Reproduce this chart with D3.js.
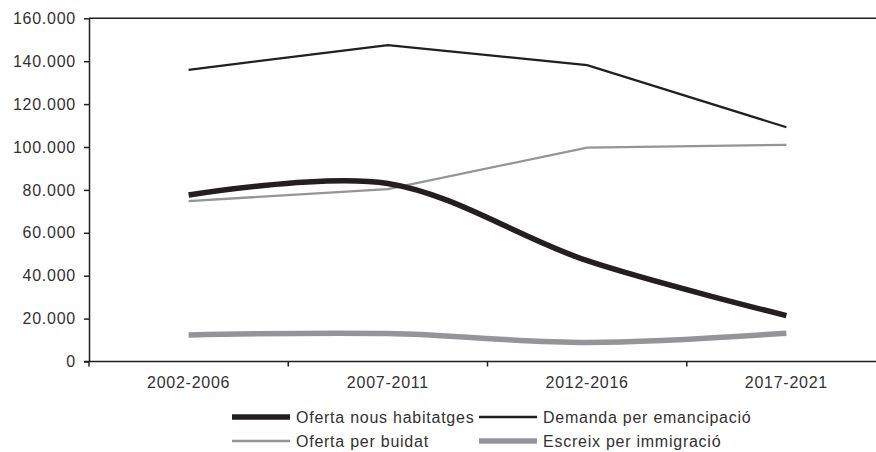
<!DOCTYPE html>
<meta charset="utf-8">
<style>
    body { margin: 0; background: #fff; }
    svg text { font-family: "Liberation Sans", Arial, sans-serif; fill: #333132; font-size: 16px; letter-spacing: 0.75px; }
    .axis path, .axis line { fill: none; stroke: #231f20; stroke-width: 1.5px; }
</style>
<body>
<div id="plotarea"></div>
<script src="https://cdn.jsdelivr.net/npm/d3@7"></script>
<script>

    var periods = ["2002-2006", "2007-2011", "2012-2016", "2017-2021"];
    var ofertaNous = [77600, 83000, 47000, 21400];
    var demandaEmancipacio = [136000, 147500, 138200, 109200];
    var ofertaBuidat = [74800, 80400, 99700, 101000];
    var escreixImmigracio = [12400, 13000, 8900, 13200];
    var yTicks = [0, 20000, 40000, 60000, 80000, 100000, 120000, 140000, 160000];

    var series = [
        {name: "Oferta nous habitatges", values: ofertaNous, color: "#231f20", width: 5.5, smooth: true},
        {name: "Demanda per emancipació", values: demandaEmancipacio, color: "#231f20", width: 2.3, smooth: false},
        {name: "Oferta per buidat", values: ofertaBuidat, color: "#939598", width: 2.3, smooth: false},
        {name: "Escreix per immigració", values: escreixImmigracio, color: "#939598", width: 5.5, smooth: true}
    ];

    var width = 876, height = 452;
    var plot = {left: 89, right: 886, top: 18.3, bottom: 361.5};

    var locale = d3.formatLocale({decimal: ",", thousands: ".", grouping: [3], currency: ["", "€"]});
    var fmt = locale.format(",d");

    var x = d3.scaleBand().domain(periods).range([plot.left, plot.right]);
    var y = d3.scaleLinear().domain([0, 160000]).range([plot.bottom, plot.top]);

    var svg = d3.select("#plotarea").append("svg")
            .attr("width", width)
            .attr("height", height);

    // top border of plot area
    svg.append("line")
            .attr("x1", plot.left).attr("x2", width)
            .attr("y1", y(160000)).attr("y2", y(160000))
            .attr("stroke", "#231f20").attr("stroke-width", 1.5);

    // y axis
    svg.append("g")
            .attr("class", "axis")
            .attr("transform", "translate(" + plot.left + ",0)")
            .call(d3.axisLeft(y).tickValues(yTicks).tickFormat(fmt).tickSize(5).tickSizeOuter(0).tickPadding(8));

    // x axis: labels centered in bands, ticks at band edges
    var xAxis = svg.append("g")
            .attr("class", "axis")
            .attr("transform", "translate(0," + plot.bottom + ")")
            .call(d3.axisBottom(x).tickSize(0).tickSizeOuter(0).tickPadding(15));
    xAxis.select(".domain").attr("d", "M" + (plot.left - 5) + ",0H" + width);
    xAxis.selectAll(".edge")
            .data(periods)
            .enter().append("line")
            .attr("class", "edge")
            .attr("x1", function(d) { return x(d); })
            .attr("x2", function(d) { return x(d); })
            .attr("y1", 0).attr("y2", 5);

    svg.selectAll(".axis").attr("font-size", null).attr("font-family", null);

    var lineLinear = d3.line()
            .x(function(d, i) { return x(periods[i]) + x.bandwidth() / 2; })
            .y(function(d) { return y(d); });
    var lineSmooth = d3.line()
            .curve(d3.curveCatmullRom.alpha(0.5))
            .x(function(d, i) { return x(periods[i]) + x.bandwidth() / 2; })
            .y(function(d) { return y(d); });

    // draw order: grays under, black on top
    var drawOrder = [series[3], series[2], series[1], series[0]];
    svg.selectAll(".serie")
            .data(drawOrder)
            .enter().append("path")
            .attr("class", "serie")
            .attr("fill", "none")
            .attr("stroke", function(d) { return d.color; })
            .attr("stroke-width", function(d) { return d.width; })
            .attr("d", function(d) { return d.smooth ? lineSmooth(d.values) : lineLinear(d.values); });

    // legend
    var legendPos = [[232, 417], [479, 417], [232, 441], [479, 441]];
    var legend = svg.selectAll(".legend")
            .data(series)
            .enter().append("g")
            .attr("class", "legend")
            .attr("transform", function(d, i) { return "translate(" + legendPos[i][0] + "," + legendPos[i][1] + ")"; });
    legend.append("line")
            .attr("x1", 0).attr("x2", 58)
            .attr("stroke", function(d) { return d.color; })
            .attr("stroke-width", function(d) { return d.width; });
    legend.append("text")
            .attr("x", 64)
            .attr("dy", "0.35em")
            .text(function(d) { return d.name; });

</script>
